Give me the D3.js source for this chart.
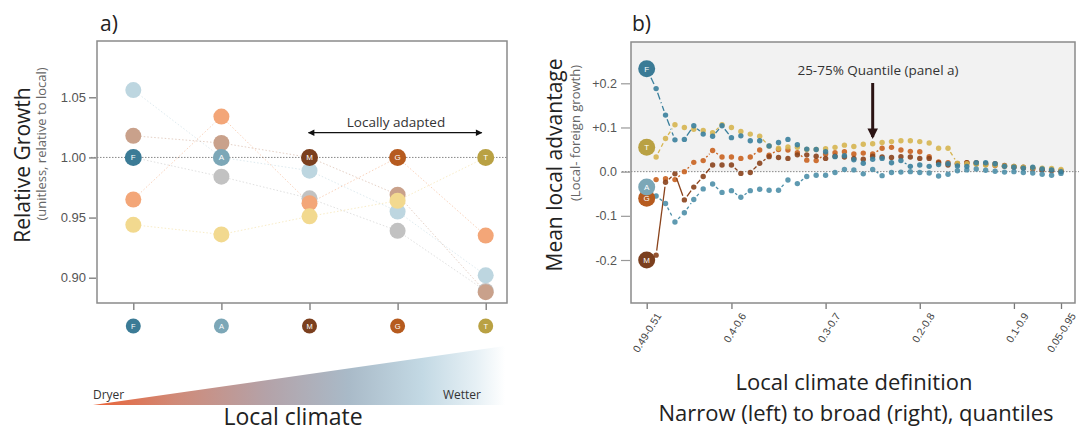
<!DOCTYPE html>
<html>
<head>
<meta charset="utf-8">
<script src="https://cdn.jsdelivr.net/npm/d3@7"></script>
<style>
  body { margin: 0; background: #fff; }
  svg { display: block; }
</style>
</head>
<body>
<svg id="svg" width="1081" height="433"></svg>
<script>
// ---- panel a data ----
const pops = ["F", "A", "M", "G", "T"];
const darkColors = ["#3b7b96", "#7ca7b7", "#7b3f1e", "#b65b1f", "#b9a143"];
const lightColors = ["#c2c2c2", "#bdd6e0", "#c9a18b", "#f3a678", "#f2d98f"];

// relative growth of each population (row) when grown in each site (columns F,A,M,G,T)
const growthF = [1.000, 0.984, 0.966, 0.939, 0.889];
const growthA = [1.056, 1.000, 0.989, 0.955, 0.902];
const growthM = [1.018, 1.012, 1.000, 0.969, 0.888];
const growthG = [0.965, 1.034, 0.962, 1.000, 0.935];
const growthT = [0.944, 0.936, 0.951, 0.964, 1.000];
const growth = [growthF, growthA, growthM, growthG, growthT];
const growthTicks = [0.90, 0.95, 1.00, 1.05];

// ---- panel b data ----
const halfWidth = [0.01, 0.02, 0.03, 0.04, 0.05, 0.06, 0.07, 0.08, 0.09, 0.10,
  0.11, 0.12, 0.13, 0.14, 0.15, 0.16, 0.17, 0.18, 0.19, 0.20,
  0.21, 0.22, 0.23, 0.24, 0.25, 0.26, 0.27, 0.28, 0.29, 0.30,
  0.31, 0.32, 0.33, 0.34, 0.35, 0.36, 0.37, 0.38, 0.39, 0.40,
  0.41, 0.42, 0.43, 0.44, 0.45];
const advF = [0.233, 0.188, 0.128, 0.072, 0.073, 0.104, 0.085, 0.080, 0.104, 0.077,
  0.081, 0.070, 0.070, 0.058, 0.066, 0.073, 0.061, 0.051, 0.050, 0.045,
  0.034, 0.036, 0.027, 0.019, 0.028, 0.030, 0.020, 0.025, 0.012, 0.015,
  0.012, 0.016, 0.018, 0.013, 0.012, 0.020, 0.020, 0.018, 0.012, 0.010,
  0.008, 0.010, 0.006, 0.004, 0.000];
const advA = [-0.035, -0.055, -0.072, -0.114, -0.093, -0.063, -0.039, -0.028, -0.047, -0.043,
  -0.058, -0.043, -0.040, -0.042, -0.042, -0.019, -0.027, -0.011, -0.008, -0.008,
  -0.002, 0.005, 0.004, -0.005, 0.005, -0.009, -0.002, -0.001, 0.000, -0.002,
  -0.003, -0.010, -0.006, 0.002, 0.004, 0.006, 0.003, 0.001, -0.001, 0.000,
  -0.002, -0.003, -0.006, -0.008, -0.004];
const advM = [-0.200, -0.189, -0.024, -0.005, -0.064, -0.035, -0.011, 0.015, 0.015, 0.015,
  -0.004, -0.002, 0.019, 0.034, 0.032, 0.030, 0.038, 0.038, 0.035, 0.030,
  0.035, 0.033, 0.030, 0.028, 0.035, 0.033, 0.032, 0.034, 0.033, 0.030,
  0.030, 0.020, 0.015, 0.018, 0.020, 0.020, 0.018, 0.018, 0.014, 0.012,
  0.010, 0.008, 0.005, 0.004, 0.002];
const advG = [-0.060, -0.018, -0.016, -0.018, 0.000, 0.021, 0.025, 0.048, 0.033, 0.033,
  0.030, 0.033, 0.049, 0.037, 0.050, 0.049, 0.043, 0.026, 0.025, 0.040,
  0.043, 0.045, 0.040, 0.042, 0.040, 0.053, 0.055, 0.049, 0.046, 0.045,
  0.034, 0.022, 0.020, 0.018, 0.020, 0.018, 0.016, 0.014, 0.012, 0.010,
  0.008, 0.006, 0.004, 0.002, 0.000];
const advT = [0.055, 0.033, 0.075, 0.106, 0.100, 0.096, 0.093, 0.088, 0.106, 0.100,
  0.091, 0.085, 0.080, 0.058, 0.053, 0.056, 0.055, 0.050, 0.050, 0.052,
  0.055, 0.060, 0.057, 0.062, 0.063, 0.066, 0.068, 0.070, 0.070, 0.068,
  0.065, 0.053, 0.053, 0.019, 0.018, 0.017, 0.015, 0.015, 0.013, 0.012,
  0.010, 0.009, 0.008, 0.007, 0.005];
const advantage = [advF, advA, advM, advG, advT];
const dotColors = ["#3a7f9c", "#4e8fa9", "#8a431c", "#c9621f", "#d6b550"];
const dashes = ["7,3,1,3", "3,3", null, "2,2", "4,3"];

const bTickValues = [0.01, 0.1, 0.2, 0.3, 0.4, 0.45];
const bTickLabels = ["0.49-0.51", "0.4-0.6", "0.3-0.7", "0.2-0.8", "0.1-0.9", "0.05-0.95"];
const bYTicks = [-0.2, -0.1, 0.0, 0.1, 0.2];
const bYLabels = ["-0.2", "-0.1", "0.0", "+0.1", "+0.2"];
const quantileArrowAt = 0.25;

const svg = d3.select("#svg");
const sansText = "'Open Sans', 'Noto Sans', sans-serif";
const tickFont = "'Liberation Sans', Arial, sans-serif";

// =================== PANEL A ===================
const a = { left: 97, right: 507, top: 41, bottom: 303 };

const xA = d3.scalePoint().domain(pops).range([133.3, 485.7]);
const yA = d3.scaleLinear().domain([0.90, 1.05]).range([277.7, 97.3]);

// y axis
const yAxisA = svg.append("g")
  .attr("transform", `translate(${a.left - 1}, 0)`)
  .call(d3.axisLeft(yA).tickValues(growthTicks).tickFormat(d3.format(".2f")).tickSize(7));
yAxisA.select(".domain").remove();
yAxisA.selectAll("line").attr("stroke", "#777").attr("stroke-width", 1.3);
yAxisA.selectAll("text").attr("font-family", tickFont).attr("font-size", 13).attr("fill", "#555").attr("x", -10);

// x axis ticks
const xAxisA = svg.append("g")
  .attr("transform", `translate(0, ${a.bottom})`)
  .call(d3.axisBottom(xA).tickSize(7).tickFormat(""));
xAxisA.select(".domain").remove();
xAxisA.selectAll("line").attr("stroke", "#777").attr("stroke-width", 1.3);

// 1.00 reference line
svg.append("line")
  .attr("x1", a.left - 6).attr("x2", a.right)
  .attr("y1", yA(1)).attr("y2", yA(1))
  .attr("stroke", "#888").attr("stroke-dasharray", "1.5,1.5");

// connecting lines for each population (very faint)
const lineA = d3.line().x((d, i) => xA(pops[i])).y(d => yA(d));
growth.forEach((row, p) => {
  svg.append("path")
    .attr("d", lineA(row))
    .attr("fill", "none")
    .attr("stroke", lightColors[p])
    .attr("stroke-width", 1)
    .attr("stroke-dasharray", "1.5,2")
    .attr("opacity", 0.5);
});

// foreign points (light)
growth.forEach((row, p) => {
  svg.append("g").selectAll("circle")
    .data(row.map((v, i) => ({ v, i })).filter(d => d.i !== p))
    .enter().append("circle")
    .attr("cx", d => xA(pops[d.i]))
    .attr("cy", d => yA(d.v))
    .attr("r", 8)
    .attr("fill", lightColors[p]);
});

// local points (dark, labelled)
const localA = svg.append("g").selectAll("g")
  .data(pops).enter().append("g")
  .attr("transform", (d, i) => `translate(${xA(d)}, ${yA(growth[i][i])})`);
localA.append("circle").attr("r", 8.5).attr("fill", (d, i) => darkColors[i]);
localA.append("text").text(d => d)
  .attr("text-anchor", "middle").attr("dy", "0.36em")
  .attr("font-family", tickFont).attr("font-size", 8).attr("fill", "#fff");

// bottom markers
const markA = svg.append("g").selectAll("g")
  .data(pops).enter().append("g")
  .attr("transform", d => `translate(${xA(d)}, 326)`);
markA.append("circle").attr("r", 7.5).attr("fill", (d, i) => darkColors[i]);
markA.append("text").text(d => d)
  .attr("text-anchor", "middle").attr("dy", "0.36em")
  .attr("font-family", tickFont).attr("font-size", 7.5).attr("fill", "#fff");

// frame
svg.append("rect")
  .attr("x", a.left).attr("y", a.top)
  .attr("width", a.right - a.left).attr("height", a.bottom - a.top)
  .attr("fill", "none").attr("stroke", "#8a8a8a").attr("stroke-width", 1.5);

// locally adapted arrow
const defs = svg.append("defs");
defs.append("marker").attr("id", "ah").attr("viewBox", "0 0 10 10")
  .attr("refX", 9).attr("refY", 5).attr("markerWidth", 7).attr("markerHeight", 5)
  .attr("orient", "auto-start-reverse")
  .append("path").attr("d", "M0,0 L10,5 L0,10 z").attr("fill", "#111");
svg.append("line")
  .attr("x1", xA("M") - 1).attr("x2", xA("T") - 4)
  .attr("y1", 132.7).attr("y2", 132.7)
  .attr("stroke", "#111").attr("stroke-width", 1.3)
  .attr("marker-start", "url(#ah)").attr("marker-end", "url(#ah)");
svg.append("text")
  .attr("x", 396).attr("y", 127)
  .attr("text-anchor", "middle")
  .attr("font-family", sansText).attr("font-size", 13.5).attr("fill", "#333")
  .text("Locally adapted");

// titles and labels
svg.append("text").attr("x", 100).attr("y", 31)
  .attr("font-family", sansText).attr("font-size", 21).attr("fill", "#222").text("a)");
svg.append("text")
  .attr("transform", "translate(30, 165) rotate(-90)")
  .attr("text-anchor", "middle")
  .attr("font-family", sansText).attr("font-size", 21).attr("fill", "#222")
  .text("Relative Growth");
svg.append("text")
  .attr("transform", "translate(46, 144) rotate(-90)")
  .attr("text-anchor", "middle")
  .attr("font-family", sansText).attr("font-size", 13).attr("fill", "#666")
  .text("(unitless, relative to local)");

// climate wedge
const grad = defs.append("linearGradient").attr("id", "climate")
  .attr("x1", "0%").attr("x2", "100%").attr("y1", "0%").attr("y2", "0%");
[["0%", "#ea6236"], ["20%", "#d08a78"], ["42%", "#b4a2a8"], ["62%", "#a9bac8"],
 ["80%", "#c3d9e4"], ["93%", "#e6f0f5"], ["100%", "#ffffff"]].forEach(s => {
  grad.append("stop").attr("offset", s[0]).attr("stop-color", s[1]);
});
svg.append("path")
  .attr("d", "M93,405 L505,346 L505,405 Z")
  .attr("fill", "url(#climate)");
svg.append("text").attr("x", 93).attr("y", 399)
  .attr("font-family", sansText).attr("font-size", 12).attr("fill", "#333").text("Dryer");
svg.append("text").attr("x", 481).attr("y", 399).attr("text-anchor", "end")
  .attr("font-family", sansText).attr("font-size", 12).attr("fill", "#333").text("Wetter");
svg.append("text").attr("x", 293).attr("y", 425).attr("text-anchor", "middle")
  .attr("font-family", sansText).attr("font-size", 23).attr("fill", "#222").text("Local climate");

// =================== PANEL B ===================
const b = { left: 631, right: 1075, top: 42, bottom: 303 };

const xB = d3.scaleLinear().domain([0.01, 0.45]).range([646.7, 1061]);
const yB = d3.scaleLinear().domain([-0.2, 0.2]).range([260, 83.3]);

// shaded positive region
svg.append("rect")
  .attr("x", b.left).attr("y", b.top)
  .attr("width", b.right - b.left).attr("height", yB(0) - b.top)
  .attr("fill", "#f2f2f2");

// y axis
const yAxisB = svg.append("g")
  .attr("transform", `translate(${b.left - 1}, 0)`)
  .call(d3.axisLeft(yB).tickValues(bYTicks).tickFormat((d, i) => bYLabels[i]).tickSize(9));
yAxisB.select(".domain").remove();
yAxisB.selectAll("line").attr("stroke", "#999").attr("stroke-width", 1.2);
yAxisB.selectAll("text").attr("font-family", tickFont).attr("font-size", 12.5).attr("fill", "#555").attr("x", -13);

// x axis
const xAxisB = svg.append("g")
  .attr("transform", `translate(0, ${b.bottom})`)
  .call(d3.axisBottom(xB).tickValues(bTickValues).tickFormat((d, i) => bTickLabels[i]).tickSize(6));
xAxisB.select(".domain").remove();
xAxisB.selectAll("line").attr("stroke", "#777").attr("stroke-width", 1.3);
xAxisB.selectAll("text")
  .attr("font-family", tickFont).attr("font-size", 10.5).attr("fill", "#444")
  .attr("text-anchor", "end")
  .attr("transform", "translate(4, 6) rotate(-58)")
  .attr("dy", "0.35em");

// zero line
svg.append("line")
  .attr("x1", b.left - 9).attr("x2", b.right + 4)
  .attr("y1", yB(0)).attr("y2", yB(0))
  .attr("stroke", "#888").attr("stroke-dasharray", "1.5,1.5");

// series: gapped connecting segments then dots
const drawOrder = [3, 2, 4, 1, 0];
drawOrder.forEach(p => {
  const vals = advantage[p];
  const segs = [];
  for (let i = 0; i < vals.length - 1; i++) {
    const x1 = xB(halfWidth[i]), y1 = yB(vals[i]);
    const x2 = xB(halfWidth[i + 1]), y2 = yB(vals[i + 1]);
    const len = Math.hypot(x2 - x1, y2 - y1);
    const g0 = i === 0 ? 10 : 4.5, g1 = 4.5;
    if (len > g0 + g1 + 2) {
      const ux = (x2 - x1) / len, uy = (y2 - y1) / len;
      segs.push([x1 + ux * g0, y1 + uy * g0, x2 - ux * g1, y2 - uy * g1]);
    }
  }
  svg.append("g").selectAll("line").data(segs).enter().append("line")
    .attr("x1", d => d[0]).attr("y1", d => d[1])
    .attr("x2", d => d[2]).attr("y2", d => d[3])
    .attr("stroke", dotColors[p]).attr("stroke-width", 1.3)
    .attr("stroke-dasharray", dashes[p]);
  svg.append("g").selectAll("circle")
    .data(vals.slice(1)).enter().append("circle")
    .attr("cx", (d, i) => xB(halfWidth[i + 1]))
    .attr("cy", d => yB(d))
    .attr("r", 2.7)
    .attr("fill", dotColors[p])
    .attr("opacity", 0.9);
});

// labelled start circles
const startOrder = [3, 2, 4, 1, 0];
const startB = svg.append("g").selectAll("g")
  .data(startOrder).enter().append("g")
  .attr("transform", p => `translate(${xB(halfWidth[0])}, ${yB(advantage[p][0])})`);
startB.append("circle").attr("r", 8.5).attr("fill", p => darkColors[p]);
startB.append("text").text(p => pops[p])
  .attr("text-anchor", "middle").attr("dy", "0.36em")
  .attr("font-family", tickFont).attr("font-size", 8).attr("fill", "#fff");

// frame
svg.append("rect")
  .attr("x", b.left).attr("y", b.top)
  .attr("width", b.right - b.left).attr("height", b.bottom - b.top)
  .attr("fill", "none").attr("stroke", "#8a8a8a").attr("stroke-width", 1.5);

// quantile annotation
defs.append("marker").attr("id", "ahb").attr("viewBox", "0 0 10 10")
  .attr("refX", 8).attr("refY", 5).attr("markerWidth", 4).attr("markerHeight", 3.5)
  .attr("orient", "auto")
  .append("path").attr("d", "M0,0 L10,5 L0,10 z").attr("fill", "#2b1414");
svg.append("line")
  .attr("x1", xB(quantileArrowAt)).attr("x2", xB(quantileArrowAt))
  .attr("y1", 83).attr("y2", 137)
  .attr("stroke", "#2b1414").attr("stroke-width", 3)
  .attr("marker-end", "url(#ahb)");
svg.append("text")
  .attr("x", 878).attr("y", 75).attr("text-anchor", "middle")
  .attr("font-family", sansText).attr("font-size", 13.5).attr("fill", "#333")
  .text("25-75% Quantile (panel a)");

// titles and labels
svg.append("text").attr("x", 632).attr("y", 31)
  .attr("font-family", sansText).attr("font-size", 21).attr("fill", "#222").text("b)");
svg.append("text")
  .attr("transform", "translate(562, 165) rotate(-90)")
  .attr("text-anchor", "middle")
  .attr("font-family", sansText).attr("font-size", 21).attr("fill", "#222")
  .text("Mean local advantage");
svg.append("text")
  .attr("transform", "translate(580, 133) rotate(-90)")
  .attr("text-anchor", "middle")
  .attr("font-family", sansText).attr("font-size", 13).attr("fill", "#666")
  .text("(Local- foreign growth)");
svg.append("text").attr("x", 854).attr("y", 390).attr("text-anchor", "middle")
  .attr("font-family", sansText).attr("font-size", 22).attr("fill", "#222")
  .text("Local climate definition");
svg.append("text").attr("x", 856).attr("y", 421).attr("text-anchor", "middle")
  .attr("font-family", sansText).attr("font-size", 22).attr("fill", "#222")
  .text("Narrow (left) to broad (right), quantiles");
</script>
</body>
</html>
